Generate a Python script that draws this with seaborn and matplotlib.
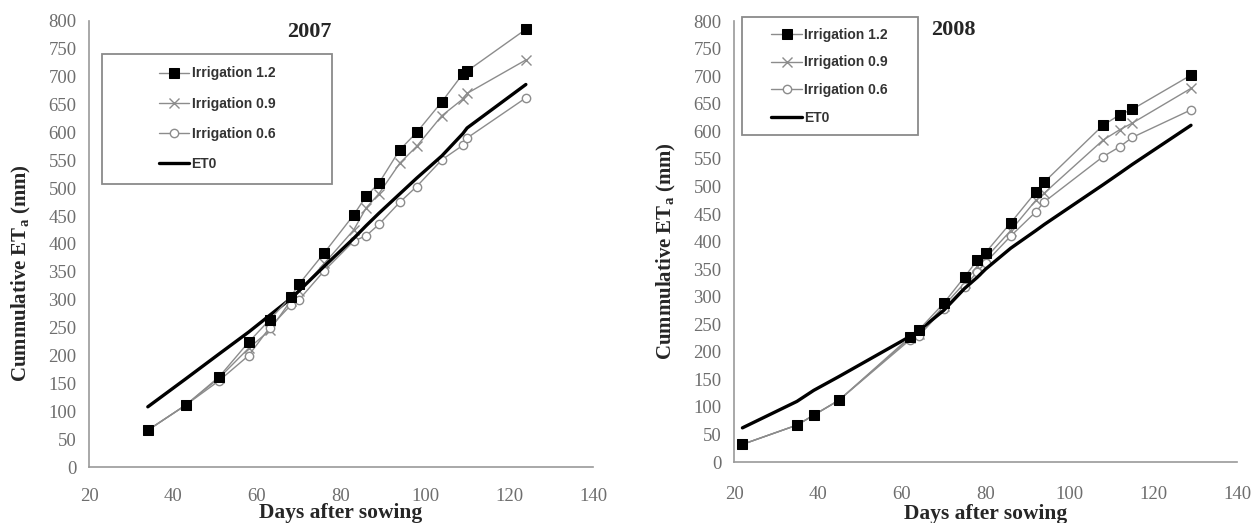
import matplotlib
matplotlib.use("Agg")
import matplotlib.pyplot as plt
from matplotlib.patches import Rectangle
import seaborn as sns

# ---- data 2007 ----
days_2007 = [34, 43, 51, 58, 63, 68, 70, 76, 83, 86, 89, 94, 98, 104, 109, 110, 124]
irr12_2007 = [66, 111, 162, 224, 264, 305, 328, 384, 452, 486, 509, 569, 600, 655, 705, 710, 785]
irr09_2007 = [66, 111, 160, 213, 245, 298, 315, 365, 425, 465, 490, 545, 575, 630, 660, 670, 730]
irr06_2007 = [66, 111, 155, 200, 250, 290, 300, 352, 405, 415, 435, 475, 503, 551, 577, 590, 662]
et0_2007 = [108, 158, 203, 242, 272, 302, 316, 360, 410, 433, 455, 490, 518, 558, 598, 608, 686]

# ---- data 2008 ----
days_2008 = [22, 35, 39, 45, 62, 64, 70, 75, 78, 80, 86, 92, 94, 108, 112, 115, 129]
irr12_2008 = [32, 67, 85, 112, 227, 239, 288, 336, 366, 380, 434, 490, 508, 611, 630, 640, 702]
irr09_2008 = [32, 67, 85, 112, 225, 232, 283, 325, 355, 370, 420, 475, 488, 584, 603, 615, 678]
irr06_2008 = [32, 67, 85, 112, 222, 228, 278, 318, 345, 362, 410, 454, 472, 554, 572, 589, 639]
et0_2008 = [62, 110, 130, 155, 228, 238, 275, 315, 335, 350, 388, 420, 431, 503, 524, 540, 611]

series_labels = ["Irrigation 1.2", "Irrigation 0.9", "Irrigation 0.6", "ET0"]
x_ticks = [20, 40, 60, 80, 100, 120, 140]
y_ticks = list(range(0, 801, 50))

sns.set_theme(style="white")
plt.rcParams["font.family"] = ["Liberation Serif", "DejaVu Serif"]
plt.rcParams["mathtext.fontset"] = "custom"
plt.rcParams["mathtext.rm"] = "Liberation Serif:bold"
plt.rcParams["mathtext.bf"] = "Liberation Serif:bold"

fig = plt.figure(figsize=(12.52, 5.23), dpi=100)
ax1 = fig.add_axes([0.0711, 0.107, 0.4026, 0.853])
ax2 = fig.add_axes([0.5863, 0.1166, 0.4018, 0.843])

grey = "#8c8c8c"
tick_grey = "#6e6e6e"


def draw(ax, days, s12, s09, s06, et0, title, title_xy, box, leg_center, spacing,
         ylab_xy, xpad, xlabpad):
    sns.lineplot(x=days, y=s12, ax=ax, color=grey, lw=1.0, marker="s", markersize=7,
                 markerfacecolor="black", markeredgecolor="black", label=series_labels[0],
                 zorder=5)
    sns.lineplot(x=days, y=s09, ax=ax, color=grey, lw=1.0, marker="x", markersize=7,
                 markeredgecolor=grey, markeredgewidth=1.0, label=series_labels[1], zorder=3)
    sns.lineplot(x=days, y=s06, ax=ax, color=grey, lw=1.0, marker="o", markersize=6,
                 markerfacecolor="white", markeredgecolor=grey, markeredgewidth=1.0,
                 label=series_labels[2], zorder=3)
    sns.lineplot(x=days, y=et0, ax=ax, color="black", lw=2.4, label=series_labels[3], zorder=4)
    ax.set_xlim(20, 140)
    ax.set_ylim(0, 800)
    ax.set_xticks(x_ticks)
    ax.set_yticks(y_ticks)
    for s in ["top", "right"]:
        ax.spines[s].set_visible(False)
    for s in ["left", "bottom"]:
        ax.spines[s].set_color("#999999")
        ax.spines[s].set_linewidth(1.2)
    ax.tick_params(axis="both", direction="out", length=5, width=1.2, color="#999999",
                   labelsize=13.5, labelcolor=tick_grey, pad=4)
    ax.tick_params(axis="x", pad=xpad)
    ax.set_xlabel("Days after sowing", fontsize=15.5, fontweight="bold", labelpad=xlabpad)
    ax.set_ylabel(r"Cummulative ET$_\mathrm{a}$ (mm)", fontsize=15, fontweight="bold")
    ax.yaxis.set_label_coords(ylab_xy[0], ylab_xy[1])
    ax.text(title_xy[0], title_xy[1], title, transform=ax.transAxes, fontsize=16,
            fontweight="bold", ha="left", va="center")
    # legend frame (wide box, entries centred as in the reference)
    rect = Rectangle((box[0], box[1]), box[2], box[3], transform=ax.transAxes,
                     fill=True, facecolor="white", edgecolor="#8a8a8a", lw=1.3,
                     zorder=6, clip_on=False)
    ax.add_patch(rect)
    leg = ax.legend(loc="center", bbox_to_anchor=leg_center, frameon=False,
                    handlelength=2.2, handletextpad=0.15, labelspacing=spacing,
                    borderpad=0.0,
                    prop={"family": "Liberation Sans", "weight": "bold", "size": 10})
    leg.set_zorder(7)
    for t in leg.get_texts():
        t.set_color("#333333")


draw(ax1, days_2007, irr12_2007, irr09_2007, irr06_2007, et0_2007, "2007",
     (0.393, 0.975), (0.026, 0.635, 0.456, 0.291), (0.254, 0.7805), 1.17,
     (-0.112, 0.435), 10, -1)
draw(ax2, days_2008, irr12_2008, irr09_2008, irr06_2008, et0_2008, "2008",
     (0.392, 0.98), (0.016, 0.741, 0.350, 0.268), (0.19, 0.875), 0.98,
     (-0.112, 0.478), 12, 1)

fig.savefig("out.png", dpi=100)
